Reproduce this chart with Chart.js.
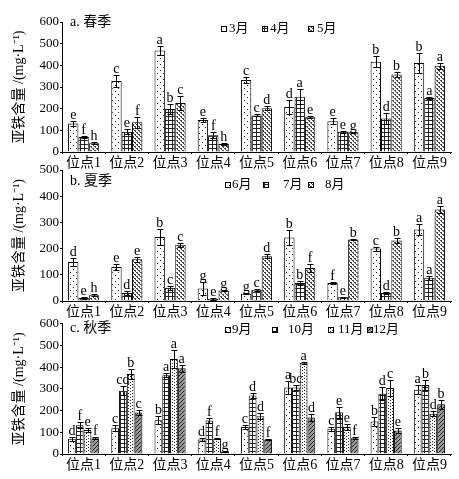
<!DOCTYPE html>
<head>
    <title>亚铁含量</title>
    <style>
        body { margin: 0; background: #fff; }
        canvas { position: absolute; left: 0; }
    </style>
</head>
<body>
    <canvas id="springChart" width="459" height="175" style="top:0px"></canvas>
    <canvas id="summerChart" width="459" height="165" style="top:160px"></canvas>
    <canvas id="autumnChart" width="459" height="164" style="top:315px"></canvas>
</body>
<script src="https://cdn.jsdelivr.net/npm/chart.js@4.4.0/dist/chart.umd.min.js"></script>
<script>
    const sites = ['位点1', '位点2', '位点3', '位点4', '位点5', '位点6', '位点7', '位点8', '位点9'];

    // a. 春季
    const springMonths = ['3月', '4月', '5月'];
    const mar = [132, 328, 468, 148, 332, 208, 142, 417, 411];
    const marErr = [12, 26, 22, 8, 15, 32, 15, 26, 45];
    const marLetters = ['e', 'c', 'a', 'e', 'c', 'd', 'e', 'b', 'b'];
    const apr = [69, 94, 198, 77, 169, 255, 94, 155, 249];
    const aprErr = [6, 10, 22, 14, 5, 34, 5, 26, 5];
    const aprLetters = ['f', 'e', 'b', 'f', 'c', 'a', 'e', 'd', 'a'];
    const may = [40, 137, 226, 37, 202, 160, 91, 358, 398];
    const mayErr = [4, 26, 32, 5, 10, 4, 2, 12, 15];
    const mayLetters = ['h', 'f', 'c', 'h', 'd', 'e', 'g', 'b', 'a'];

    // b. 夏季
    const summerMonths = ['6月', '7月', '8月'];
    const jun = [149, 130, 244, 48, 28, 242, 69, 200, 273];
    const junErr = [15, 12, 30, 25, 3, 30, 3, 8, 20];
    const junLetters = ['d', 'e', 'b', 'g', 'g', 'b', 'f', 'c', 'a'];
    const jul = [11, 31, 51, 8, 43, 69, 14, 31, 89];
    const julErr = [3, 8, 8, 3, 3, 8, 3, 5, 8];
    const julLetters = ['e', 'd', 'c', 'e', 'c', 'b', 'e', 'd', 'a'];
    const aug = [22, 159, 215, 40, 171, 126, 235, 231, 349];
    const augErr = [3, 10, 8, 3, 8, 15, 3, 8, 12];
    const augLetters = ['h', 'e', 'c', 'g', 'd', 'f', 'b', 'b', 'a'];

    // c. 秋季
    const autumnMonths = ['9月', '10月', '11月', '12月'];
    const sep = [70, 119, 156, 67, 124, 307, 116, 150, 296];
    const sepErr = [8, 15, 20, 5, 10, 30, 10, 20, 20];
    const sepLetters = ['d', 'c', 'b', 'd', 'c', 'a', 'c', 'b', 'a'];
    const oct = [133, 292, 363, 154, 270, 307, 192, 278, 318];
    const octErr = [15, 20, 10, 10, 10, 10, 25, 30, 25];
    const octLetters = ['f', 'cd', 'a', 'f', 'd', 'bc', 'e', 'd', 'b'];
    const nov = [111, 369, 438, 70, 174, 420, 124, 304, 186];
    const novErr = [10, 25, 40, 3, 15, 5, 15, 35, 10];
    const novLetters = ['e', 'b', 'a', 'f', 'd', 'a', 'e', 'c', 'd'];
    const dec = [73, 191, 395, 12, 67, 168, 73, 108, 229];
    const decErr = [5, 10, 15, 2, 3, 15, 5, 10, 20];
    const decLetters = ['f', 'c', 'a', 'g', 'f', 'd', 'f', 'e', 'b'];

    const serif = "'Liberation Serif', 'Noto Sans CJK SC', serif";

    // little tiles used as bar fills
    function makePattern(kind) {
        const c = document.createElement('canvas');
        const size = { sparse: [6, 6], grid: [4, 4], dense: [4, 4], column: [4, 3], hatch: [4, 4] }[kind];
        c.width = size[0];
        c.height = size[1];
        const g = c.getContext('2d');
        g.fillStyle = '#fff';
        g.fillRect(0, 0, c.width, c.height);
        g.fillStyle = '#222';
        if (kind == 'sparse') {
            g.fillRect(1, 1, 1, 1);
            g.fillRect(4, 4, 1, 1);
        } else if (kind == 'grid') {
            g.fillRect(0, 0, 4, 1);
            g.fillRect(0, 0, 1, 4);
        } else if (kind == 'dense') {
            g.fillStyle = '#444';
            g.fillRect(0, 0, 2, 1);
            g.fillRect(2, 2, 2, 1);
            g.fillRect(1, 1, 1, 1);
            g.fillRect(3, 3, 1, 1);
        } else if (kind == 'column') {
            g.fillRect(2, 1, 1, 1);
            g.fillRect(0, 0, 1, 1);
        } else if (kind == 'hatch') {
            g.fillStyle = '#999';
            g.fillRect(0, 0, 4, 4);
            g.fillStyle = '#222';
            for (let i = 0; i < 4; i++) g.fillRect(i, 3 - i, 1, 1);
        }
        return g.createPattern(c, 'repeat');
    }

    const fills = {
        sparse: makePattern('sparse'),
        grid: makePattern('grid'),
        dense: makePattern('dense'),
        column: makePattern('column'),
        hatch: makePattern('hatch')
    };

    function dataset(label, data, errors, letters, fill) {
        return {
            label: label,
            data: data,
            errors: errors,
            letters: letters,
            backgroundColor: fills[fill],
            borderColor: '#000',
            borderWidth: 1,
            barPercentage: 1,
            categoryPercentage: 0.72
        };
    }

    // error bars, significance letters, panel label and legend
    const decorPlugin = {
        id: 'decor',
        afterDatasetsDraw(chart, args, opts) {
            const ctx = chart.ctx;
            const y = chart.scales.y;
            ctx.save();
            ctx.strokeStyle = '#000';
            ctx.lineWidth = 1;
            ctx.fillStyle = '#000';
            ctx.font = '14px ' + serif;
            ctx.textAlign = 'center';
            ctx.textBaseline = 'bottom';
            chart.data.datasets.forEach((ds, i) => {
                const meta = chart.getDatasetMeta(i);
                meta.data.forEach((bar, j) => {
                    const v = ds.data[j];
                    const top = Math.round(y.getPixelForValue(v + ds.errors[j])) + 0.5;
                    const low = Math.round(y.getPixelForValue(Math.max(0, v - ds.errors[j]))) + 0.5;
                    const x = Math.round(bar.x) + 0.5;
                    ctx.beginPath();
                    ctx.moveTo(x, low);
                    ctx.lineTo(x, top);
                    ctx.moveTo(x - 3, top);
                    ctx.lineTo(x + 3, top);
                    ctx.moveTo(x - 3, low);
                    ctx.lineTo(x + 3, low);
                    ctx.stroke();
                    ctx.fillText(ds.letters[j], bar.x, top + 0.5);
                });
            });

            ctx.textAlign = 'left';
            ctx.textBaseline = 'middle';
            ctx.font = '14px ' + serif;
            ctx.fillText(opts.title, opts.titleX, opts.titleY);

            ctx.font = '13px ' + serif;
            chart.data.datasets.forEach((ds, i) => {
                const bx = opts.boxX[i];
                ctx.fillStyle = ds.backgroundColor;
                ctx.fillRect(bx, opts.legendY - 3, 6, 6);
                ctx.strokeRect(bx + 0.5, opts.legendY - 2.5, 5, 5);
                ctx.fillStyle = '#000';
                ctx.fillText(ds.label, opts.textX[i], opts.legendY);
            });
            ctx.restore();
        }
    };

    function makeChart(id, months, sets, yMax, padTop, xHeight, decor) {
        const ctx = document.getElementById(id).getContext('2d');
        return new Chart(ctx, {
            type: 'bar',
            data: {
                labels: sites,
                datasets: sets
            },
            options: {
                responsive: false,
                animation: false,
                layout: { padding: { top: padTop, right: 8, left: 0, bottom: 0 } },
                plugins: {
                    legend: { display: false },
                    tooltip: { enabled: false },
                    decor: decor
                },
                scales: {
                    x: {
                        grid: { offset: true, drawOnChartArea: false, color: '#000', tickLength: 2 },
                        border: { color: '#000' },
                        ticks: { color: '#000', font: { family: serif, size: 14 }, padding: 1, maxRotation: 0 },
                        afterFit(s) { s.height = xHeight; }
                    },
                    y: {
                        min: 0,
                        max: yMax,
                        grid: { drawOnChartArea: false, color: '#000', tickLength: 2 },
                        border: { color: '#000' },
                        ticks: { stepSize: 100, color: '#000', font: { family: serif, size: 13 }, padding: 1 },
                        title: {
                            display: true,
                            text: '亚铁含量 /(mg·L⁻¹)',
                            color: '#000',
                            font: { family: serif, size: 14 },
                            padding: { top: 11, bottom: 0 }
                        },
                        afterFit(s) { s.width = 62; }
                    }
                }
            },
            plugins: [decorPlugin]
        });
    }

    makeChart('springChart', springMonths, [
        dataset(springMonths[0], mar, marErr, marLetters, 'sparse'),
        dataset(springMonths[1], apr, aprErr, aprLetters, 'grid'),
        dataset(springMonths[2], may, mayErr, mayLetters, 'dense')
    ], 600, 22, 23, {
        title: 'a. 春季', titleX: 70, titleY: 22, legendY: 29,
        boxX: [221, 262, 308], textX: [229, 270, 317]
    });

    makeChart('summerChart', summerMonths, [
        dataset(summerMonths[0], jun, junErr, junLetters, 'sparse'),
        dataset(summerMonths[1], jul, julErr, julLetters, 'grid'),
        dataset(summerMonths[2], aug, augErr, augLetters, 'dense')
    ], 500, 10, 24, {
        title: 'b. 夏季', titleX: 70, titleY: 21, legendY: 25,
        boxX: [225, 263, 308], textX: [232, 283, 325]
    });

    makeChart('autumnChart', autumnMonths, [
        dataset(autumnMonths[0], sep, sepErr, sepLetters, 'sparse'),
        dataset(autumnMonths[1], oct, octErr, octLetters, 'grid'),
        dataset(autumnMonths[2], nov, novErr, novLetters, 'column'),
        dataset(autumnMonths[3], dec, decErr, decLetters, 'hatch')
    ], 600, 8, 25, {
        title: 'c. 秋季', titleX: 70, titleY: 13, legendY: 15,
        boxX: [225, 272, 328, 367], textX: [232, 288, 338, 373]
    });
</script>
